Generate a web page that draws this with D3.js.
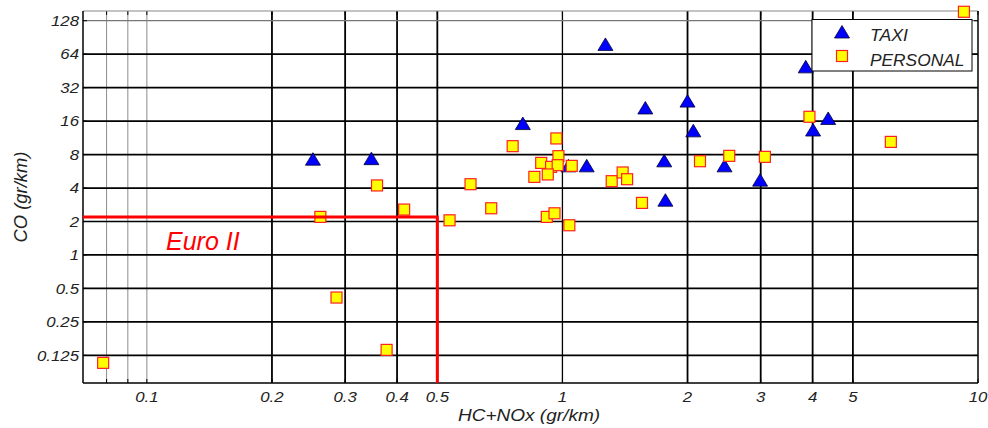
<!DOCTYPE html>
<html><head><meta charset="utf-8">
<script src="https://cdn.jsdelivr.net/npm/d3@7"></script>
<style>
html,body{margin:0;padding:0;background:#fff;}
svg{display:block;}
text{font-family:"Liberation Sans",Arial,sans-serif;font-style:italic;}
</style></head>
<body>
<svg id="chart" width="988" height="428"></svg>
<script>
// ---- data ----
const taxiX = [0.251, 0.347, 0.803, 1.269, 1.144, 1.034, 1.583, 2.0, 2.065, 1.758, 1.769, 2.455, 2.99, 3.85, 4.01, 4.36];
const taxiY = [7.27, 7.35, 15.2, 78.3, 6.33, 6.33, 21.0, 24.2, 13.07, 7.02, 3.11, 6.33, 4.71, 49.2, 13.3, 16.9];
const personalX = [0.0785, 0.2615, 0.286, 0.3775, 0.358, 0.416, 0.535, 0.601, 0.674, 0.917, 0.957, 1.039, 0.759, 0.967, 0.889, 0.939, 0.978, 0.974, 1.053, 0.856, 0.922, 1.314, 1.396, 1.431, 1.554, 2.143, 2.52, 3.07, 3.93, 6.17, 9.25];
const personalY = [0.107, 2.2, 0.414, 0.140, 4.22, 2.56, 2.05, 4.33, 2.63, 2.2, 2.37, 1.85, 9.52, 11.17, 6.73, 6.20, 7.74, 6.42, 6.33, 5.04, 5.30, 4.61, 5.52, 4.80, 2.94, 6.97, 7.79, 7.63, 17.5, 10.4, 154];
const xTickValues = [0.1, 0.2, 0.3, 0.4, 0.5, 1, 2, 3, 4, 5, 10];
const xTickLabels = ["0.1", "0.2", "0.3", "0.4", "0.5", "1", "2", "3", "4", "5", "10"];
const yTickValues = [0.125, 0.25, 0.5, 1, 2, 4, 8, 16, 32, 64, 128];
const yTickLabels = ["0.125", "0.25", "0.5", "1", "2", "4", "8", "16", "32", "64", "128"];
const xGridMinor = [0.08, 0.09, 0.1];
const xGridMajor = [0.2, 0.3, 0.4, 0.5, 1, 2, 3, 4, 5];
const euroLimitX = 0.5, euroLimitY = 2.2;
const seriesNames = ["TAXI", "PERSONAL"];
const xTitle = "HC+NOx (gr/km)", yTitle = "CO (gr/km)", euroLabel = "Euro II";

// ---- layout ----
const L = 83, R = 978, T = 11, B = 383;
const svg = d3.select("#chart");
const x = d3.scaleLog().domain([0.0702, 10]).range([L, R]);
const y = d3.scaleLog().base(2).domain([0.0705, 156.5]).range([B, T]);
const SX = 1.12;

// grid
const g = svg.append("g");
g.selectAll(".gxm").data(xGridMinor).join("line")
  .attr("x1", d => x(d)).attr("x2", d => x(d)).attr("y1", T).attr("y2", B)
  .attr("stroke", "#8c8c8c").attr("stroke-width", 1);
g.selectAll(".gxM").data(xGridMajor).join("line")
  .attr("x1", d => x(d)).attr("x2", d => x(d)).attr("y1", T).attr("y2", B)
  .attr("stroke", "#000").attr("stroke-width", d => d === 1 ? 1.3 : 1.8);
g.selectAll(".gy").data(yTickValues).join("line")
  .attr("x1", L).attr("x2", R).attr("y1", d => y(d)).attr("y2", d => y(d))
  .attr("stroke", d => d === 128 ? "#777" : "#000").attr("stroke-width", d => d === 128 ? 1.2 : 1.7);

// small tick marks
const tk = svg.append("g").attr("stroke", "#000").attr("stroke-width", 1);
xTickValues.concat([0.08, 0.09]).forEach(v => {
  tk.append("line").attr("x1", x(v)).attr("x2", x(v)).attr("y1", B).attr("y2", B - 4);
  tk.append("line").attr("x1", x(v)).attr("x2", x(v)).attr("y1", T).attr("y2", T + 4);
});
yTickValues.forEach(v => {
  tk.append("line").attr("x1", L).attr("x2", L + 4).attr("y1", y(v)).attr("y2", y(v));
  tk.append("line").attr("x1", R).attr("x2", R - 4).attr("y1", y(v)).attr("y2", y(v));
});

// frame
svg.append("line").attr("x1", L).attr("x2", R).attr("y1", T).attr("y2", T).attr("stroke", "#888").attr("stroke-width", 1.2);
svg.append("line").attr("x1", L).attr("x2", L).attr("y1", T).attr("y2", B).attr("stroke", "#000").attr("stroke-width", 1.5);
svg.append("line").attr("x1", L).attr("x2", R).attr("y1", B).attr("y2", B).attr("stroke", "#000").attr("stroke-width", 1.5);
svg.append("line").attr("x1", R).attr("x2", R).attr("y1", T).attr("y2", B).attr("stroke", "#000").attr("stroke-width", 1.5);

// tick labels
svg.append("g").selectAll("text").data(xTickValues).join("text")
  .attr("transform", d => `translate(${x(d)},${401.5}) scale(${SX},1)`)
  .attr("text-anchor", "middle").attr("font-size", 15).attr("fill", "#222")
  .text((d, i) => xTickLabels[i]);
svg.append("g").selectAll("text").data(yTickValues).join("text")
  .attr("transform", d => `translate(79,${y(d) + 5.3}) scale(${SX},1)`)
  .attr("text-anchor", "end").attr("font-size", 15).attr("fill", "#222")
  .text((d, i) => yTickLabels[i]);

// axis titles
svg.append("text").attr("transform", `translate(529,421) scale(${SX},1)`)
  .attr("text-anchor", "middle").attr("font-size", 17).attr("fill", "#222").text(xTitle);
svg.append("text").attr("transform", `translate(27,197) rotate(-90) scale(1.08,1.08)`)
  .attr("text-anchor", "middle").attr("font-size", 17).attr("fill", "#222").text(yTitle);

// markers
const tri = "M0,-6.5L7.5,6L-7.5,6Z";
svg.append("g").selectAll("path").data(taxiX).join("path")
  .attr("d", tri).attr("transform", (d, i) => `translate(${x(d)},${y(taxiY[i])})`)
  .attr("fill", "#0000ff").attr("stroke", "#000033").attr("stroke-width", 0.8);
svg.append("g").selectAll("rect").data(personalX).join("rect")
  .attr("x", d => x(d) - 5.5).attr("y", (d, i) => y(personalY[i]) - 5.5)
  .attr("width", 11).attr("height", 11)
  .attr("fill", "#ffff00").attr("stroke", "#ff2020").attr("stroke-width", 1.2);

// Euro II limit
svg.append("path")
  .attr("d", `M${L},${y(euroLimitY)}H${x(euroLimitX)}V${B}`)
  .attr("fill", "none").attr("stroke", "#ff0000").attr("stroke-width", 3);
svg.append("text").attr("x", 166).attr("y", 250).attr("font-size", 25).attr("fill", "#ff0000").text(euroLabel);

// legend
const lg = svg.append("g");
lg.append("rect").attr("x", 812).attr("y", 19.5).attr("width", 160).attr("height", 51.5)
  .attr("fill", "#fff").attr("stroke", "#000").attr("stroke-width", 1);
lg.append("path").attr("d", tri).attr("transform", "translate(842,32)")
  .attr("fill", "#0000ff").attr("stroke", "#000033").attr("stroke-width", 0.8);
lg.append("rect").attr("x", 836.5).attr("y", 50.5).attr("width", 11).attr("height", 11)
  .attr("fill", "#ffff00").attr("stroke", "#ff2020").attr("stroke-width", 1.2);
lg.append("text").attr("transform", "translate(870,40.5) scale(1.04,1)").attr("font-size", 17).attr("fill", "#222").text(seriesNames[0]);
lg.append("text").attr("transform", "translate(870,65.5) scale(1.02,1)").attr("font-size", 17).attr("fill", "#222").text(seriesNames[1]);
</script>
</body></html>
